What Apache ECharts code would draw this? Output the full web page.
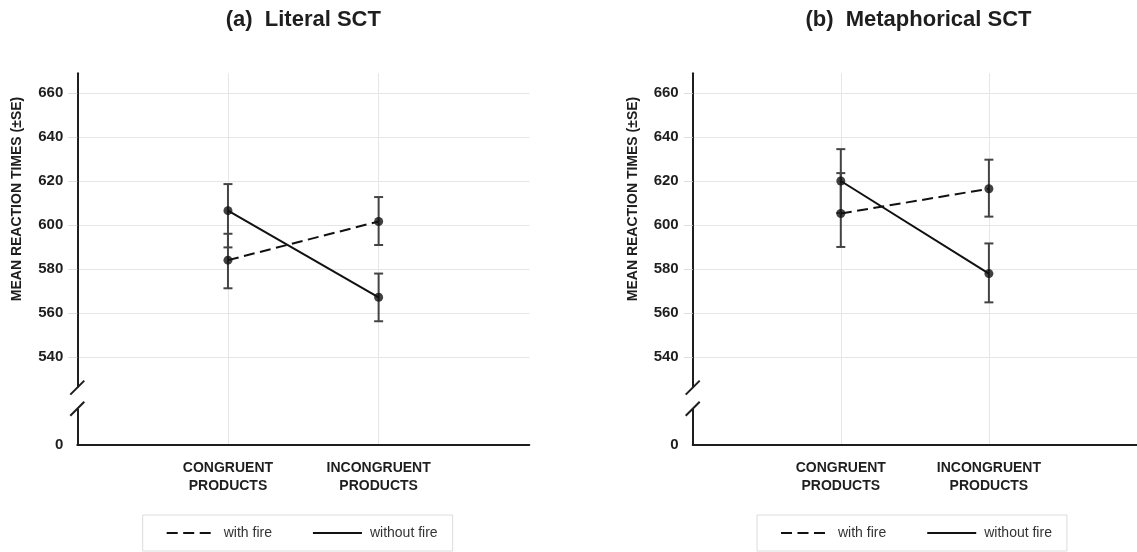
<!DOCTYPE html>
<html><head><meta charset="utf-8">
<script src="https://cdn.jsdelivr.net/npm/echarts@6/dist/echarts.min.js"></script>
<style>html,body{margin:0;padding:0;background:#fff}#c{width:1137px;height:552px}</style>
</head><body><div id="c"></div>
<script>
// ---------- data ----------
const categories = ['CONGRUENT\nPRODUCTS', 'INCONGRUENT\nPRODUCTS'];
const panelTitles = ['(a)  Literal SCT', '(b)  Metaphorical SCT'];
const seriesNames = ['with fire', 'without fire'];
const yAxisTitle = 'MEAN REACTION TIMES (\u00B1SE)';
const yTicks = [540, 560, 580, 600, 620, 640, 660];
const zeroLabel = '0';

// Panel (a) Literal SCT
const literalWithFire      = [584.0, 601.6];
const literalWithFireLow   = [571.2, 590.9];
const literalWithFireHigh  = [596.0, 612.7];
const literalWithoutFire     = [606.5, 567.1];
const literalWithoutFireLow  = [589.8, 556.2];
const literalWithoutFireHigh = [618.6, 577.9];

// Panel (b) Metaphorical SCT
const metaWithFire      = [605.2, 616.5];
const metaWithFireLow   = [590.0, 603.8];
const metaWithFireHigh  = [623.6, 629.7];
const metaWithoutFire     = [620.0, 577.9];
const metaWithoutFireLow  = [605.5, 564.8];
const metaWithoutFireHigh = [634.5, 591.6];

// ---------- layout / style ----------
const AXIS_ZERO = 500;   // axis position standing for "0" below the break
const AXIS_MAX = 669;
const BREAK_LO = 516.4, BREAK_HI = 526;
const FONT = '"Liberation Sans", Arial, Helvetica, sans-serif';
const INK = '#1e1e1e';
const grids = [
  {left: 77.3, top: 73.3, width: 452, height: 371.5},
  {left: 692.7, top: 73.3, width: 451.5, height: 371.5}
];
const legendLefts = [142.7, 757];

const panels = [
  {wf: literalWithFire, wfl: literalWithFireLow, wfh: literalWithFireHigh,
   wo: literalWithoutFire, wol: literalWithoutFireLow, woh: literalWithoutFireHigh},
  {wf: metaWithFire, wfl: metaWithFireLow, wfh: metaWithFireHigh,
   wo: metaWithoutFire, wol: metaWithoutFireLow, woh: metaWithoutFireHigh}
];

function measure(text, font) {
  const ctx = document.createElement('canvas').getContext('2d');
  ctx.font = font;
  return ctx.measureText(text).width;
}

function renderErrorBar(params, api) {
  const x = api.value(0);
  const lo = api.coord([x, api.value(1)]);
  const hi = api.coord([x, api.value(2)]);
  const cap = 4.5;
  const style = {stroke: '#444', lineWidth: 2};
  return {type: 'group', children: [
    {type: 'line', shape: {x1: lo[0], y1: lo[1], x2: hi[0], y2: hi[1]}, style: style},
    {type: 'line', shape: {x1: lo[0] - cap, y1: lo[1], x2: lo[0] + cap, y2: lo[1]}, style: style},
    {type: 'line', shape: {x1: hi[0] - cap, y1: hi[1], x2: hi[0] + cap, y2: hi[1]}, style: style}
  ]};
}

const xAxes = [], yAxes = [], series = [], titles = [], legends = [];
panels.forEach((p, i) => {
  const g = grids[i];
  const titleFont = 'bold 22px ' + FONT;
  const tw = measure(panelTitles[i], titleFont);
  titles.push({
    text: panelTitles[i], left: g.left + g.width / 2 - tw / 2, top: 9, padding: 0,
    textStyle: {fontSize: 22, fontWeight: 'bold', color: INK, fontFamily: FONT}
  });
  xAxes.push({
    type: 'value', gridIndex: i, min: 0, max: categories.length + 1, interval: 1,
    axisLine: {show: true, onZero: false, lineStyle: {color: INK, width: 2}},
    axisTick: {show: false}, splitLine: {show: false},
    axisLabel: {
      customValues: categories.map((c, k) => k + 1),
      formatter: v => categories[v - 1] || '',
      fontSize: 14, fontWeight: 'bold', color: INK, lineHeight: 17.5, margin: 15, fontFamily: FONT
    }
  });
  yAxes.push({
    type: 'value', gridIndex: i, min: AXIS_ZERO, max: AXIS_MAX,
    axisLine: {show: true, onZero: false, lineStyle: {color: INK, width: 2}},
    axisTick: {show: true, customValues: yTicks, length: 9, lineStyle: {color: '#dedede', width: 1}},
    splitLine: {show: false},
    axisLabel: {
      customValues: [AXIS_ZERO].concat(yTicks),
      formatter: v => (v === AXIS_ZERO ? zeroLabel : String(v)),
      fontSize: 15, fontWeight: 'bold', color: INK, margin: 14, fontFamily: FONT
    }
  });
  // grid lines
  series.push({
    type: 'line', name: 'grid' + i, xAxisIndex: i, yAxisIndex: i, data: [], silent: true, z: 0,
    markLine: {
      silent: true, symbol: 'none', animation: false, label: {show: false}, z: 0,
      lineStyle: {color: '#e6e6e6', width: 1, type: 'solid'},
      emphasis: {disabled: true},
      data: yTicks.map(v => ({yAxis: v})).concat(categories.map((c, k) => ({xAxis: k + 1})))
    }
  });
  // error bars
  const ebData = [];
  categories.forEach((c, k) => {
    ebData.push([k + 1, p.wfl[k], p.wfh[k]]);
    ebData.push([k + 1, p.wol[k], p.woh[k]]);
  });
  series.push({
    type: 'custom', name: 'se' + i, xAxisIndex: i, yAxisIndex: i, z: 10, silent: true,
    renderItem: renderErrorBar, encode: {x: 0, y: [1, 2]}, data: ebData
  });
  // lines
  series.push({
    type: 'line', name: seriesNames[0], xAxisIndex: i, yAxisIndex: i, z: 11,
    symbol: 'none', animation: false,
    lineStyle: {color: '#111', width: 2, type: [11, 5.5]},
    itemStyle: {color: '#111'},
    data: p.wf.map((v, k) => [k + 1, v])
  });
  series.push({
    type: 'line', name: seriesNames[1], xAxisIndex: i, yAxisIndex: i, z: 11,
    symbol: 'none', animation: false,
    lineStyle: {color: '#111', width: 2, type: 'solid'},
    itemStyle: {color: '#111'},
    data: p.wo.map((v, k) => [k + 1, v])
  });
  // points
  series.push({
    type: 'scatter', name: 'points' + i, xAxisIndex: i, yAxisIndex: i, z: 12,
    symbol: 'circle', symbolSize: 9, itemStyle: {color: '#111'}, animation: false,
    data: p.wf.map((v, k) => [k + 1, v]).concat(p.wo.map((v, k) => [k + 1, v]))
  });
  legends.push({
    data: seriesNames.slice(), left: legendLefts[i], top: 515,
    orient: 'horizontal', selectedMode: false,
    borderColor: '#dcdcdc', borderWidth: 1, padding: [11, 15, 11, 23],
    itemGap: 40, itemWidth: 49, itemHeight: 14,
    itemStyle: {opacity: 0},
    textStyle: {fontSize: 14, color: '#333', fontFamily: FONT, padding: [0, 0, 0, 3]}
  });
});

const chart = echarts.init(document.getElementById('c'), null, {renderer: 'canvas'});
chart.setOption({
  animation: false,
  backgroundColor: '#fff',
  textStyle: {fontFamily: FONT},
  title: titles,
  legend: legends,
  grid: grids.map(g => Object.assign({containLabel: false}, g)),
  xAxis: xAxes,
  yAxis: yAxes,
  series: series
});

// axis-break decoration + rotated y-axis titles
const graphics = [];
grids.forEach((g, i) => {
  const hi = chart.convertToPixel({gridIndex: i}, [0, BREAK_HI]);
  const lo = chart.convertToPixel({gridIndex: i}, [0, BREAK_LO]);
  const x = hi[0], yHi = hi[1], yLo = lo[1], s = 7;
  graphics.push({type: 'rect', z: 100, silent: true,
    shape: {x: x - 3, y: yHi, width: 6, height: yLo - yHi}, style: {fill: '#fff'}});
  graphics.push({type: 'line', z: 101, silent: true,
    shape: {x1: x - s, y1: yHi + s, x2: x + s, y2: yHi - s}, style: {stroke: INK, lineWidth: 2}});
  graphics.push({type: 'line', z: 101, silent: true,
    shape: {x1: x - s, y1: yLo + s, x2: x + s, y2: yLo - s}, style: {stroke: INK, lineWidth: 2}});
  graphics.push({type: 'text', z: 101, silent: true,
    x: g.left - 60, y: 199, rotation: Math.PI / 2,
    style: {text: yAxisTitle, font: 'bold 14px ' + FONT, fill: INK, align: 'center', verticalAlign: 'middle'}});
});
chart.setOption({graphic: graphics});
</script>
</body></html>
